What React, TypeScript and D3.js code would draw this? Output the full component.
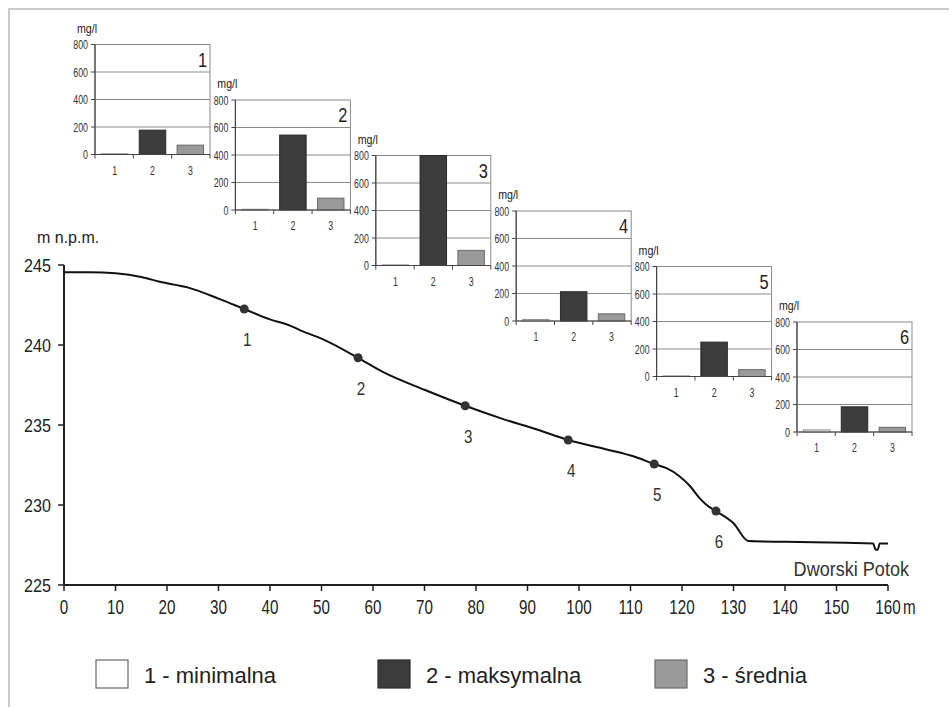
import * as d3 from "d3";

// sampling sites along the stream and concentrations (mg/l)
const sites = ["1", "2", "3", "4", "5", "6"];
const classes = ["1", "2", "3"];
const minValues = [5, 5, 4, 10, 4, 15];
const maxValues = [177, 545, 800, 213, 250, 183];
const meanValues = [68, 86, 110, 52, 50, 34];
const concTicks = [0, 200, 400, 600, 800];

// longitudinal profile
const profileDistance = [
  0, 5, 10, 15, 18.6, 24, 30, 35, 40, 44, 46, 50, 57.1, 62, 70, 77.9, 85, 92, 97.9, 105, 111, 114.6,
  117, 119.5, 121.5, 123.5, 124.8, 126.6, 130, 132.9, 140, 152, 157.1, 157.6, 158.0, 158.4, 160,
];
const profileElevation = [
  244.55, 244.55, 244.48, 244.25, 243.95, 243.6, 242.9, 242.25, 241.6, 241.2, 240.9, 240.4, 239.2,
  238.3, 237.2, 236.2, 235.4, 234.7, 234.06, 233.5, 233.0, 232.56, 232.3, 231.8, 231.2, 230.4, 230.0,
  229.62, 228.86, 227.75, 227.7, 227.64, 227.6, 227.2, 227.2, 227.6, 227.6,
];
const siteDistance = [35, 57.1, 77.9, 97.9, 114.6, 126.6];
const siteElevation = [242.25, 239.2, 236.2, 234.06, 232.56, 229.62];

const distanceTicks = [0, 10, 20, 30, 40, 50, 60, 70, 80, 90, 100, 110, 120, 130, 140, 150, 160];
const elevationTicks = [225, 230, 235, 240, 245];

const legendLabels = ["1 - minimalna", "2 - maksymalna", "3 - średnia"];
const barFills = ["#ffffff", "#3c3c3c", "#9a9a9a"];
const barStrokes = ["#808080", "#2a2a2a", "#6a6a6a"];

const SANS = "'Liberation Sans', Arial, sans-serif";

const x = d3.scaleLinear().domain([0, 160]).range([64, 888]);
const y = d3.scaleLinear().domain([225, 245]).range([585, 265]);

const INSET_W = 115, INSET_H = 110;

// condensed text: regular sans squeezed horizontally
function NText({ x, y, size, anchor = "start", sx = 0.78, fill = "#222", children }: any) {
  return (
    <text transform={`translate(${x},${y}) scale(${sx},1)`} textAnchor={anchor} fontSize={size}
      fontFamily={SANS} fill={fill}>{children}</text>
  );
}

function Inset({ i }: { i: number }) {
  const left = 95 + i * 140.4;
  const top = 44.5 + i * 55.5;
  const bx = d3.scaleBand().domain(classes).range([0, INSET_W]).paddingInner(0.3).paddingOuter(0.17);
  const by = d3.scaleLinear().domain([0, 800]).range([INSET_H, 0]);
  const vals = [minValues[i], maxValues[i], meanValues[i]];
  const step = INSET_W / 3;
  return (
    <g transform={`translate(${left},${top})`}>
      <rect x={0} y={0} width={INSET_W} height={INSET_H} fill="#fff" stroke="#8a8a8a" strokeWidth={1} />
      {concTicks.slice(1, -1).map((t) => (
        <line key={t} x1={0} x2={INSET_W} y1={by(t)} y2={by(t)} stroke="#8a8a8a" strokeWidth={1} />
      ))}
      {vals.map((v, k) => (
        <rect key={k} x={bx(classes[k])} y={by(v)} width={bx.bandwidth()} height={INSET_H - by(v)}
          fill={barFills[k]} stroke={barStrokes[k]} strokeWidth={1} />
      ))}
      <line x1={0} x2={0} y1={0} y2={INSET_H} stroke="#444" strokeWidth={1.2} />
      <line x1={0} x2={INSET_W} y1={INSET_H} y2={INSET_H} stroke="#444" strokeWidth={1.2} />
      {concTicks.map((t) => (
        <g key={t}>
          <line x1={-4} x2={0} y1={by(t)} y2={by(t)} stroke="#444" />
          <NText x={-7} y={by(t) + 4.5} anchor="end" size={13} sx={0.68} fill="#333">{t}</NText>
        </g>
      ))}
      {[0, 1, 2, 3].map((k) => (
        <line key={k} x1={k * step} x2={k * step} y1={INSET_H} y2={INSET_H + 4} stroke="#444" />
      ))}
      {classes.map((c) => (
        <NText key={c} x={(bx(c) ?? 0) + bx.bandwidth() / 2} y={INSET_H + 20} anchor="middle"
          size={12.5} sx={0.7} fill="#333">{c}</NText>
      ))}
      <NText x={-8} y={-12} anchor="middle" size={12.5} sx={0.85} fill="#222">mg/l</NText>
      <NText x={INSET_W - 3} y={22} anchor="end" size={20} sx={0.82} fill="#222">{sites[i]}</NText>
    </g>
  );
}

export default function App() {
  const pts = profileDistance.map((d, k) => [x(d), y(profileElevation[k])] as [number, number]);
  const line = d3.line().curve(d3.curveMonotoneX)(pts) ?? "";
  return (
    <svg width={949} height={707} style={{ position: "absolute", left: 0, top: 0, background: "#fff" }}>
      <rect width={949} height={707} fill="#fff" />
      <path d="M9,707 L9,9 L949,9" fill="none" stroke="#b8b8b8" strokeWidth={1.5} />

      {sites.map((s, i) => <Inset key={s} i={i} />)}

      {/* main axes */}
      <line x1={x(0)} x2={x(0)} y1={y(245)} y2={y(225)} stroke="#222" strokeWidth={2} />
      <line x1={x(0)} x2={x(160)} y1={y(225)} y2={y(225)} stroke="#222" strokeWidth={2} />
      {elevationTicks.map((t) => (
        <g key={t}>
          <line x1={x(0) - 6} x2={x(0)} y1={y(t)} y2={y(t)} stroke="#222" strokeWidth={1.5} />
          <NText x={51} y={y(t) + 7} anchor="end" size={19} sx={0.85}>{t}</NText>
        </g>
      ))}
      {distanceTicks.map((t) => (
        <g key={t}>
          <line x1={x(t)} x2={x(t)} y1={y(225)} y2={y(225) + 6} stroke="#222" strokeWidth={1.5} />
          <NText x={x(t)} y={614} anchor="middle" size={20} sx={0.76}>{t}</NText>
        </g>
      ))}
      <NText x={903} y={614} size={20} sx={0.76}>m</NText>
      <text x={37} y={243} fontSize={16} fontFamily={SANS} fill="#222">m n.p.m.</text>

      <path d={line} fill="none" stroke="#111" strokeWidth={2} />
      {siteDistance.map((d, k) => (
        <g key={k}>
          <circle cx={x(d)} cy={y(siteElevation[k])} r={4.5} fill="#333" />
          <NText x={x(d) + 3} y={y(siteElevation[k]) + 37} anchor="middle" size={19} sx={0.8}
            fill="#333">{sites[k]}</NText>
        </g>
      ))}
      <NText x={909} y={576} anchor="end" size={21} sx={0.86} fill="#333">Dworski Potok</NText>

      {/* legend */}
      {legendLabels.map((l, k) => {
        const lx = [96, 378, 655][k];
        return (
          <g key={l}>
            <rect x={lx} y={660} width={32} height={28} fill={barFills[k]} stroke={k === 0 ? "#666" : barStrokes[k]} strokeWidth={1.2} />
            <text x={lx + 48} y={683} fontSize={22} fontFamily={SANS} fill="#222">{l}</text>
          </g>
        );
      })}
    </svg>
  );
}
